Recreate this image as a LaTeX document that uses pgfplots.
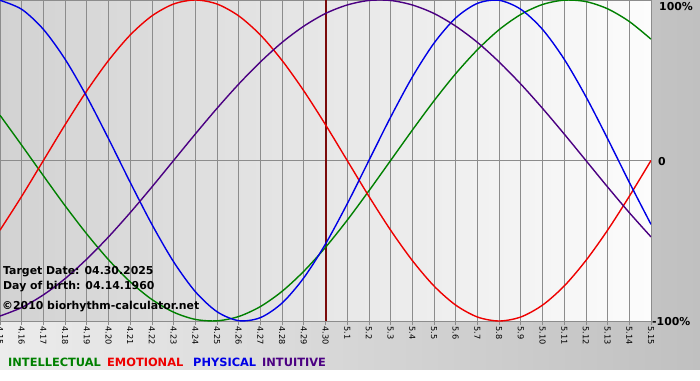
\documentclass[border=0pt]{standalone}
\usepackage{fontspec}
\setmainfont{DejaVu Sans}
\usepackage{pgfplots}
\usepackage{pgfplotstable}
\pgfplotsset{compat=1.18}
\definecolor{intel}{HTML}{008000}
\definecolor{emo}{HTML}{EE0000}
\definecolor{phys}{HTML}{0000E6}
\definecolor{intu}{HTML}{4B0082}
\definecolor{gridc}{HTML}{8C8C8C}
\definecolor{target}{HTML}{7A0A0A}
\pgfplotstableread{
d intel emo phys intu
0 28.2 -43.4 99.8 -96.9
1 9.5 -22.3 94.2 -91.6
2 -9.5 0 81.7 -83.7
3 -28.2 22.3 63.1 -73.6
4 -45.8 43.4 39.8 -61.4
5 -61.8 62.3 13.6 -47.6
6 -75.6 78.2 -13.6 -32.5
7 -86.6 90.1 -39.8 -16.5
8 -94.5 97.5 -63.1 0
9 -99.0 100 -81.7 16.5
10 -99.9 97.5 -94.2 32.5
11 -97.2 90.1 -99.8 47.6
12 -91.0 78.2 -97.9 61.4
13 -81.5 62.3 -88.8 73.6
14 -69.0 43.4 -73.1 83.7
15 -54.1 22.3 -52.0 91.6
16 -37.2 0 -27.0 96.9
17 -18.9 -22.3 0 99.7
18 0 -43.4 27.0 99.7
19 18.9 -62.3 52.0 96.9
20 37.2 -78.2 73.1 91.6
21 54.1 -90.1 88.8 83.7
22 69.0 -97.5 97.9 73.6
23 81.5 -100 99.8 61.4
24 91.0 -97.5 94.2 47.6
25 97.2 -90.1 81.7 32.5
26 99.9 -78.2 63.1 16.5
27 99.0 -62.3 39.8 0
28 94.5 -43.4 13.6 -16.5
29 86.6 -22.3 -13.6 -32.5
30 75.6 0 -39.8 -47.6
}\biodata
\begin{document}
\begin{tikzpicture}[x=1pt,y=1pt]
\useasboundingbox (0,-59) rectangle (700,321);
\shade[left color={rgb,255:red,236;green,236;blue,236}, right color={rgb,255:red,192;green,192;blue,192}] (0,-49) rectangle (700,321);
\fill[white] (0,-59) rectangle (700,-49);
\begin{axis}[
  at={(0,0)}, anchor=south west,
  scale only axis, width=651pt, height=321pt,
  xmin=0, xmax=30, ymin=-100, ymax=100,
  axis background/.style={left color={rgb,255:red,210;green,210;blue,210}, right color={rgb,255:red,252;green,252;blue,252}},
  axis line style={draw=gridc, line width=0.8pt},
  xtick={0,...,30},
  xticklabels={4.15,4.16,4.17,4.18,4.19,4.20,4.21,4.22,4.23,4.24,4.25,4.26,4.27,4.28,4.29,4.30,5.1,5.2,5.3,5.4,5.5,5.6,5.7,5.8,5.9,5.10,5.11,5.12,5.13,5.14,5.15},
  xticklabel style={rotate=-90, anchor=west, font=\fontsize{8.2}{9}\selectfont, inner sep=1pt},
  x tick style={draw=gridc, line width=0.8pt},
  tick align=outside, major tick length=4pt,
  xmajorgrids, ymajorgrids,
  grid style={draw=gridc, line width=0.8pt},
  ytick={0}, yticklabels={},
  y tick style={draw=none},
  /pgf/number format/assume math mode=true,
]
\addplot[target, line width=2pt] coordinates {(15,-100) (15,100)};
\addplot[intel, line width=1.4pt, smooth] table[x=d, y=intel] {\biodata};
\addplot[emo, line width=1.4pt, smooth] table[x=d, y=emo] {\biodata};
\addplot[phys, line width=1.4pt, smooth] table[x=d, y=phys] {\biodata};
\addplot[intu, line width=1.4pt, smooth] table[x=d, y=intu] {\biodata};
\end{axis}
\begin{scope}[every node/.style={inner sep=0pt, anchor=west, font=\fontsize{10.9}{12}\selectfont\bfseries}]
\node at (3,49) {Target Date: 04.30.2025};
\node at (3,34) {Day of birth: 04.14.1960};
\node at (2,14) {\textcopyright2010 biorhythm-calculator.net};
\node at (659,314) {100\%};
\node at (658,159) {0};
\node at (652,-1) {-100\%};
\end{scope}
\begin{scope}[every node/.style={inner sep=0pt, anchor=west, font=\fontsize{11.4}{13}\selectfont\bfseries}]
\node[text=intel] at (8,-41) {INTELLECTUAL};
\node[text=emo] at (107,-41) {EMOTIONAL};
\node[text=phys] at (193,-41) {PHYSICAL};
\node[text=intu] at (262,-41) {INTUITIVE};
\end{scope}
\end{tikzpicture}
\end{document}
